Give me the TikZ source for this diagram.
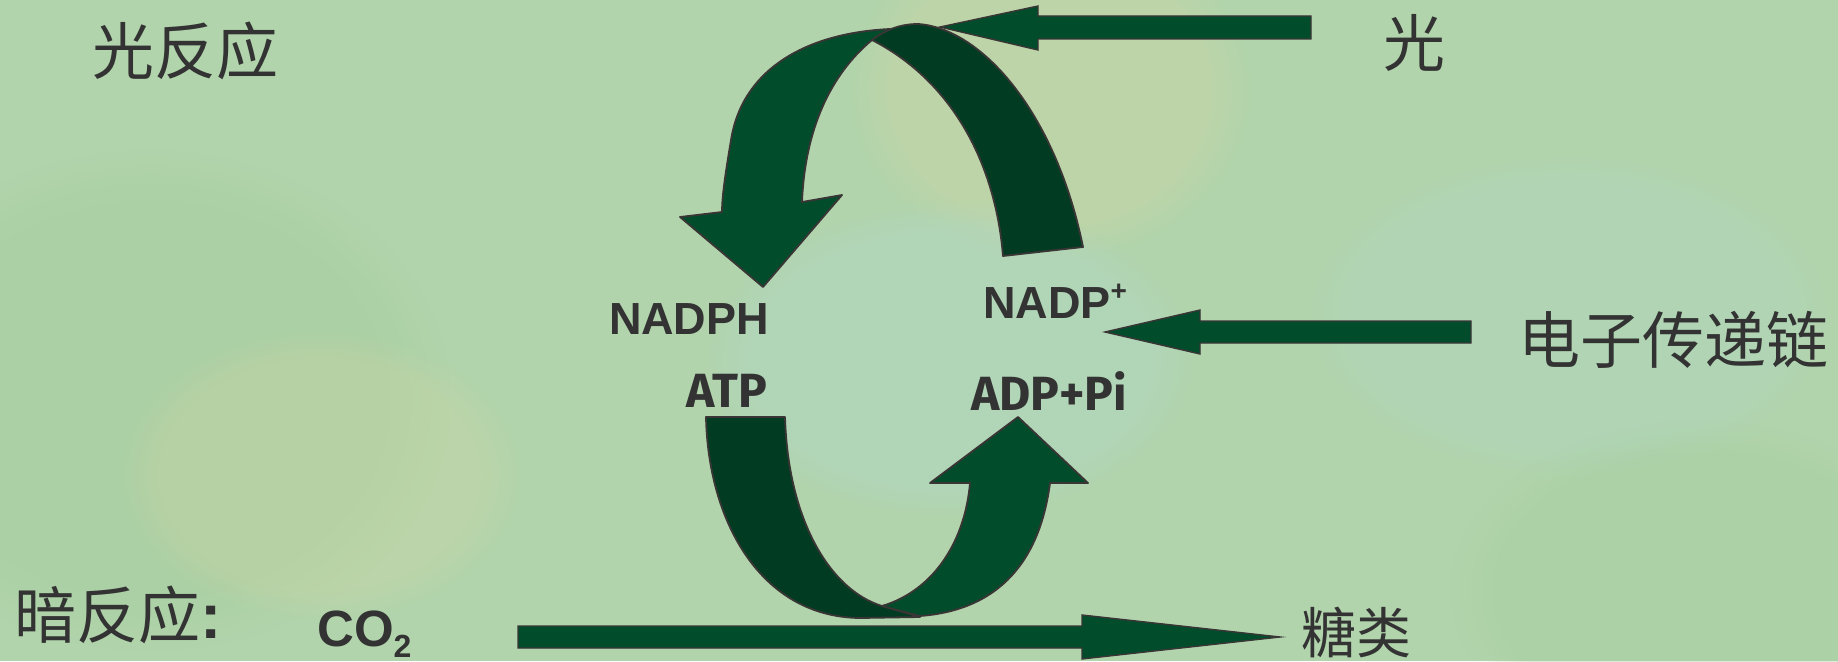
\documentclass[tikz,border=0pt]{standalone}
\usepackage{fontspec}
\usetikzlibrary{fadings}
\newfontfamily\cjk{Noto Sans CJK SC}
\newfontfamily\arialfont{Liberation Sans}
\newfontfamily\roundfont{Fira Sans}

\definecolor{bgbase}{RGB}{178,212,172}
\definecolor{bgyellow}{RGB}{204,214,164}
\definecolor{bgteal}{RGB}{176,216,200}
\definecolor{bgdeep}{RGB}{166,206,160}
\definecolor{bandlight}{RGB}{0,76,43}
\definecolor{banddark}{RGB}{0,59,34}
\definecolor{edgegray}{RGB}{58,54,54}
\definecolor{txtgray}{RGB}{51,51,51}

\tikzset{
  bandA/.style={fill=bandlight, draw=edgegray, line width=1.8pt, line join=round},
  bandB/.style={fill=banddark, draw=edgegray, line width=1.8pt, line join=round},
  flatarrow/.style={fill=bandlight, draw=edgegray, line width=1.4pt, line join=miter},
  cjklabel/.style={text=txtgray, inner sep=0pt, font=\cjk\fontsize{62}{70}\selectfont},
  boldlabel/.style={text=txtgray, inner sep=0pt, font=\arialfont\bfseries\fontsize{45}{50}\selectfont},
  roundlabel/.style={text=txtgray, inner sep=0pt, font=\roundfont\bfseries\fontsize{48}{54}\selectfont},
  blob/.style={path fading=circle with fuzzy edge 20 percent}
}

\begin{document}
\begin{tikzpicture}[x=1pt,y=-1pt]
\useasboundingbox (0,0) rectangle (1838,661);

% paper background with soft colour patches
\fill[bgbase] (0,0) rectangle (1838,661);
\fill[bgdeep, blob, opacity=0.5] (-150,150) rectangle (450,650);
\fill[bgyellow, blob, opacity=0.4] (850,-80) rectangle (1250,260);
\fill[bgyellow, blob, opacity=0.35] (120,330) rectangle (520,620);
\fill[bgteal, blob, opacity=0.4] (700,200) rectangle (1200,520);
\fill[bgteal, blob, opacity=0.3] (1300,150) rectangle (1838,480);
\fill[bgdeep, blob, opacity=0.4] (1450,420) rectangle (1950,760);

% incoming light arrow (behind the loop)
\draw[flatarrow] (1311,16) coordinate (lightS1) -- (1038,16) -- (1038,6) -- (940,27) coordinate (lightTip)
  -- (1038,50) -- (1038,39) -- (1311,39) -- cycle;

% upper loop, left band ending in the downward head
\draw[bandA] (763,287) coordinate (nadphTip) -- (842,195) -- (802,202)
  .. controls (805,130) and (830,75) .. (872,40)
  -- (890,29)
  .. controls (805,33) and (742,70) .. (731,140)
  .. controls (726,170) and (722,195) .. (722,212)
  -- (680,217) -- cycle;

% upper loop, right band starting at NADP+
\draw[bandB] (872,40) coordinate (loopTop)
  .. controls (885,30) and (900,24) .. (918,24)
  .. controls (980,28) and (1055,110) .. (1083,247)
  -- (1003,256)
  .. controls (995,160) and (950,80) .. (872,40) -- cycle;

% lower loop, ATP band
\draw[bandB] (706,417) coordinate (atpTop) -- (785,417)
  .. controls (788,520) and (830,590) .. (882,606) coordinate (lowJoin)
  -- (920,617)
  -- (860,618)
  .. controls (760,617) and (708,520) .. (706,417) -- cycle;

% lower loop, band rising to ADP+Pi
\draw[bandA] (882,606) -- (920,616)
  .. controls (1000,610) and (1040,560) .. (1050,483)
  -- (1088,483) -- (1018,417) coordinate (adpTip) -- (930,483) -- (970,483)
  .. controls (965,540) and (935,590) .. (882,606) -- cycle;

% electron transport chain arrow
\draw[flatarrow] (1471,321) -- (1200,321) -- (1200,310) -- (1105,332) coordinate (etcTip)
  -- (1200,354) -- (1200,343) -- (1471,343) -- cycle;

% CO2 to sugar arrow
\draw[flatarrow] (518,626) -- (1082,626) -- (1082,615) -- (1280,637) coordinate (sugarTip)
  -- (1082,659) -- (1082,648) -- (518,648) -- cycle;

% labels
\node[cjklabel] (lightrxn) at (185,51) {光反应};
\node[cjklabel] (light) at (1414,43) {光};
\node[cjklabel] (etc) at (1673,340) {电子传递链};
\node[cjklabel, anchor=west] (darkrxn) at (14,615) {暗反应\arialfont\bfseries\fontsize{64}{70}\selectfont:};
\node[cjklabel, font=\cjk\fontsize{55}{62}\selectfont] (sugar) at (1356,632) {糖类};

\node[boldlabel] (nadph) at (689,319) {NADPH};
\node[boldlabel, anchor=base west] (nadp) at (983,318) {NADP\raisebox{0.4em}{\fontsize{28}{30}\selectfont+}};
\node[roundlabel] (atp) at (727,391) {ATP};
\node[roundlabel] (adp) at (1049,391) {ADP+Pi};
\node[boldlabel, font=\arialfont\bfseries\fontsize{51}{56}\selectfont, anchor=base west] (co2) at (317,646)
  {CO\raisebox{-0.22em}{\fontsize{32}{34}\selectfont 2}};
\end{tikzpicture}
\end{document}
